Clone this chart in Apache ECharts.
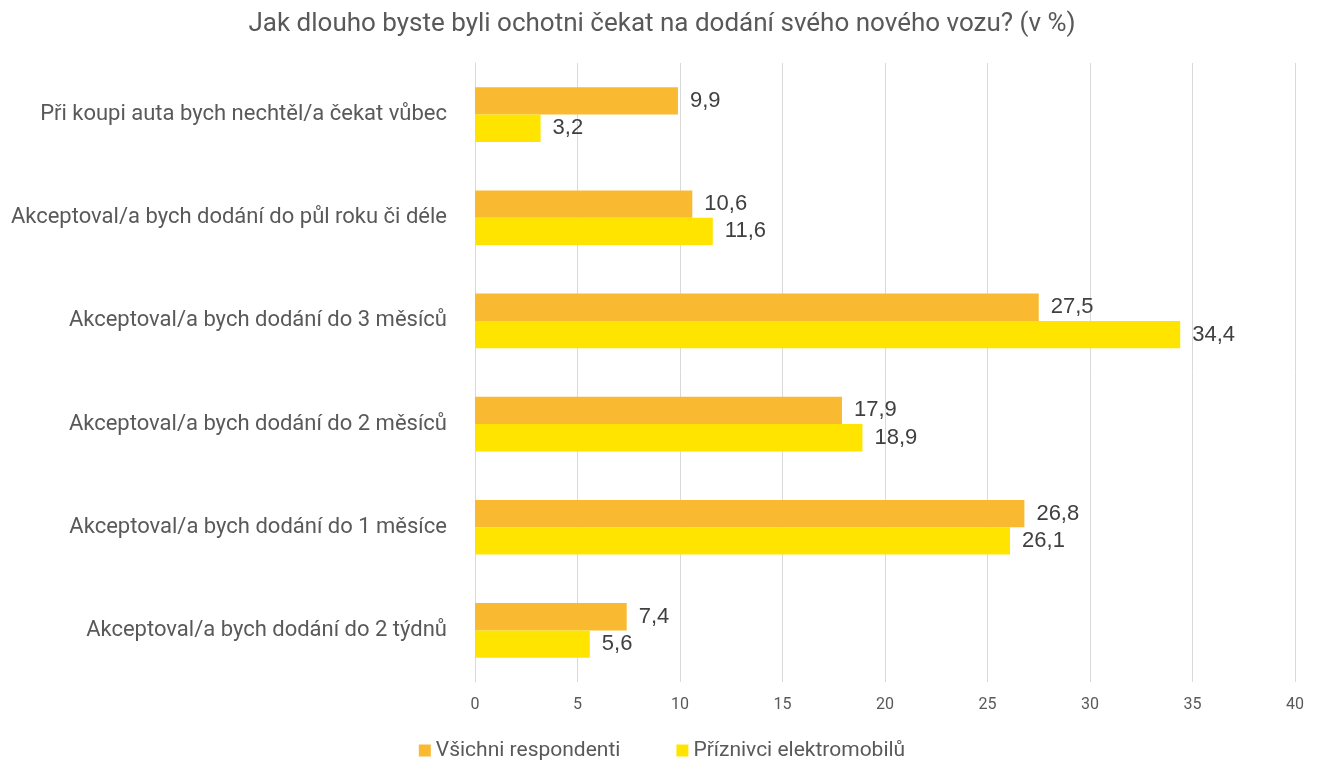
<!DOCTYPE html>
<html><head><meta charset="utf-8">
<script src="https://cdn.jsdelivr.net/npm/echarts@6/dist/echarts.min.js"></script>
<style>html,body{margin:0;padding:0;background:#fff}#c{width:1324px;height:781px}</style>
</head><body><div id="c"></div>
<script>
const categories = [
  "Při koupi auta bych nechtěl/a čekat vůbec",
  "Akceptoval/a bych dodání do půl roku či déle",
  "Akceptoval/a bych dodání do 3 měsíců",
  "Akceptoval/a bych dodání do 2 měsíců",
  "Akceptoval/a bych dodání do 1 měsíce",
  "Akceptoval/a bych dodání do 2 týdnů"
];
const seriesNames = ["Všichni respondenti", "Příznivci elektromobilů"];
const allRespondents = [9.9, 10.6, 27.5, 17.9, 26.8, 7.4];
const evFans = [3.2, 11.6, 34.4, 18.9, 26.1, 5.6];
const titleText = "Jak dlouho byste byli ochotni čekat na dodání svého nového vozu? (v %)";

const font = "Roboto";
const chart = echarts.init(document.getElementById('c'));
const lbl = {
  show: true, position: 'right', distance: 12,
  color: '#404040', fontSize: 22, fontFamily: 'Liberation Sans',
  formatter: p => String(p.value).replace('.', ',')
};
chart.setOption({
  animation: false,
  title: { text: titleText, left: 'center', top: 6,
    textStyle: { color: '#595959', fontSize: 26, fontWeight: 'normal', fontFamily: font } },
  legend: { bottom: 15, left: 'center', itemWidth: 12, itemHeight: 12, itemGap: 56,
    icon: 'rect',
    textStyle: { color: '#595959', fontSize: 21, fontFamily: font } },
  grid: { left: 475, right: 29, top: 63, bottom: 99, containLabel: false },
  xAxis: { type: 'value', min: 0, max: 40, interval: 5,
    axisLine: { show: false }, axisTick: { show: false },
    splitLine: { lineStyle: { color: '#d9d9d9' } },
    axisLabel: { color: '#595959', fontSize: 16, fontFamily: font, margin: 15 } },
  yAxis: { type: 'category', data: categories, inverse: true,
    axisLine: { show: true, lineStyle: { color: '#d9d9d9' } }, axisTick: { show: false },
    axisLabel: { color: '#595959', fontSize: 22, fontFamily: font, margin: 28 } },
  series: [
    { name: seriesNames[0], type: 'bar', data: allRespondents, itemStyle: { color: '#F9B931' },
      barGap: '0%', barCategoryGap: '47%', label: lbl },
    { name: seriesNames[1], type: 'bar', data: evFans, itemStyle: { color: '#FFE400' },
      barGap: '0%', barCategoryGap: '47%', label: lbl }
  ]
});
</script></body></html>
